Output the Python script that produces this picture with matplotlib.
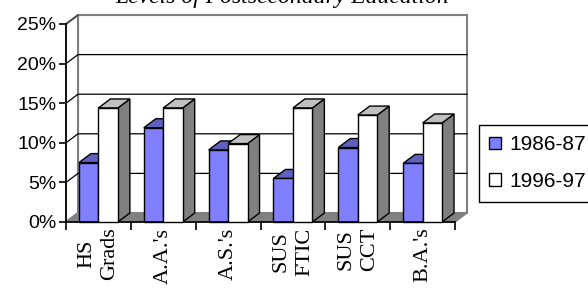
import matplotlib.pyplot as plt
from matplotlib.patches import Polygon, Patch

# --- dados ---
categories = ["HS\nGrads", "A.A.'s", "A.S.'s", "SUS\nFTIC", "SUS\nCCT", "B.A.'s"]
series_names = ["1986-87", "1996-97"]
vals_8687 = [7.5, 11.9, 9.1, 5.5, 9.4, 7.4]
vals_9697 = [14.4, 14.4, 9.9, 14.4, 13.5, 12.5]
yticks = [0, 5, 10, 15, 20, 25]
title = "Levels of Postsecondary Education"

# estilo "Excel 3D": frente, topo, lado
colors = [("#8080FF", "#6060BF", "#4040A0"), ("#FFFFFF", "#C0C0C0", "#808080")]

fig = plt.figure(figsize=(5.88, 2.91), dpi=100)
ax = fig.add_axes([66 / 588, 69 / 291, 389 / 588, 198 / 291])
n = len(categories)
ax.set_xlim(0, n)
ax.set_ylim(0, 25)

# profundidade em unidades de dados
dx = 12 / 64.83
dy = 9 / 7.92

def poly(pts, fc, ec="black", lw=1.0, z=1):
    ax.add_patch(Polygon(pts, closed=True, facecolor=fc, edgecolor=ec,
                         linewidth=lw, clip_on=False, zorder=z))

# parede do fundo, parede lateral e chao
poly([(dx, dy), (n + dx, dy), (n + dx, 25 + dy), (dx, 25 + dy)], "white", "#808080", 1.5, 0.5)
poly([(0, 0), (dx, dy), (dx, 25 + dy), (0, 25)], "white", "#808080", 1.5, 0.5)
for t in yticks[1:-1]:
    ax.plot([0, dx, n + dx], [t, t + dy, t + dy], color="black", lw=0.9,
            clip_on=False, zorder=0.6)
ax.plot([0, dx], [25, 25 + dy], color="#404040", lw=1, clip_on=False, zorder=0.6)
poly([(0, 0), (n, 0), (n + dx, dy), (dx, dy)], "#808080", "#808080", 1, 0.7)

# barras 3D
bw = 0.3
for j, vals in enumerate([vals_8687, vals_9697]):
    front, top, side = colors[j]
    for i, v in enumerate(vals):
        x0 = i + 0.2 + bw * j
        x1 = x0 + bw
        poly([(x1, 0), (x1 + dx, dy), (x1 + dx, v + dy), (x1, v)], side, z=2 + j)
        poly([(x0, v), (x1, v), (x1 + dx, v + dy), (x0 + dx, v + dy)], top, z=2 + j)
        poly([(x0, 0), (x1, 0), (x1, v), (x0, v)], front, z=2 + j)

# eixos
for s in ["top", "right"]:
    ax.spines[s].set_visible(False)
ax.spines["left"].set_linewidth(1.2)
ax.spines["bottom"].set_linewidth(1.2)
ax.set_yticks(yticks)
ax.set_yticklabels([f"{t}%" for t in yticks], fontsize=14, family="Liberation Sans")
ax.tick_params(axis="y", length=5, width=1.2, pad=2)
ax.set_xticks(range(n + 1))
ax.set_xticklabels([])
ax.tick_params(axis="x", which="major", length=6, width=1.2)
ax.set_xticks([i + 0.5 for i in range(n)], minor=True)
ax.set_xticklabels(categories, minor=True, rotation=90, fontsize=16,
                   family="Liberation Serif", linespacing=1.3)
ax.tick_params(axis="x", which="minor", length=0, pad=4)
ax.set_facecolor("none")

handles = [Patch(facecolor=colors[k][0], edgecolor="black") for k in range(2)]
fig.legend(handles, series_names, loc="upper left",
           bbox_to_anchor=(479 / 588, 1 - 125 / 291), borderaxespad=0,
           prop={"family": "Liberation Sans", "size": 15}, fancybox=False,
           edgecolor="black", framealpha=1, handlelength=0.55, handleheight=0.55,
           handletextpad=0.4, labelspacing=0.85, borderpad=0.5)

fig.text(0.48, 1 - 3 / 291, title, ha="center", va="baseline", fontsize=17,
         family="Liberation Serif", style="italic", color="black")

fig.savefig("out.png", dpi=100)
